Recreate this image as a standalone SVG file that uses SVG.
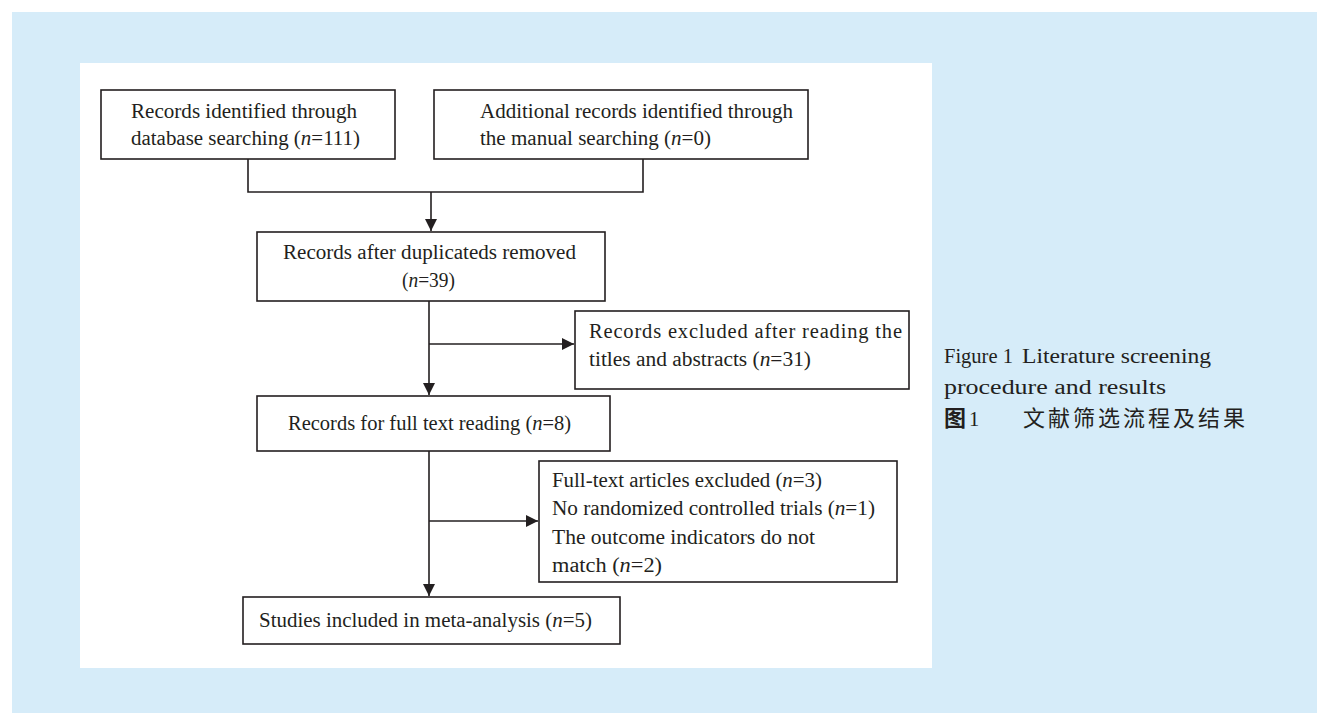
<svg xmlns="http://www.w3.org/2000/svg" width="1317" height="713" viewBox="0 0 1317 713">
<defs>
<style>
.bx{fill:#fff;stroke:#231f20;stroke-width:1.6}
.t{font-family:"Liberation Serif","DejaVu Serif",serif;font-size:20.5px;fill:#231f20}
.ln{fill:none;stroke:#231f20;stroke-width:1.6}
.cap{font-family:"Liberation Serif","DejaVu Serif",serif;font-size:20.5px;fill:#231f20}
.cjk{font-family:"Noto Sans CJK SC",sans-serif;font-size:22px;fill:#231f20}
</style>
<marker id="ah" markerWidth="12" markerHeight="12" refX="12" refY="6" orient="auto" markerUnits="userSpaceOnUse">
<path d="M0,0 L12,6 L0,12 Z" fill="#231f20"/>
</marker>
</defs>
<rect x="0" y="0" width="1317" height="713" fill="#fff"/>
<rect x="12" y="12" width="1305" height="701" fill="#d6ecf9"/>
<rect x="80" y="63" width="852" height="605" fill="#fff"/>

<g id="connectors">
<path class="ln" d="M248,159 V192 H643 V159"/>
<path class="ln" d="M431,192 V231" marker-end="url(#ah)"/>
<path class="ln" d="M429,301 V395" marker-end="url(#ah)"/>
<path class="ln" d="M429,344 H574" marker-end="url(#ah)"/>
<path class="ln" d="M429,451 V596" marker-end="url(#ah)"/>
<path class="ln" d="M429,521 H538" marker-end="url(#ah)"/>
</g>

<g id="n1">
<rect class="bx" x="101" y="90" width="294" height="69"/>
<text class="t" x="131" y="118" textLength="226" lengthAdjust="spacingAndGlyphs">Records identified through</text>
<text class="t" x="131" y="145" textLength="229" lengthAdjust="spacingAndGlyphs">database searching (<tspan font-style="italic">n</tspan>=111)</text>
</g>
<g id="n2">
<rect class="bx" x="434" y="90" width="374" height="69"/>
<text class="t" x="480" y="118" textLength="313" lengthAdjust="spacingAndGlyphs">Additional records identified through</text>
<text class="t" x="480" y="145" textLength="231" lengthAdjust="spacingAndGlyphs">the manual searching (<tspan font-style="italic">n</tspan>=0)</text>
</g>
<g id="n3">
<rect class="bx" x="257" y="232" width="348" height="69"/>
<text class="t" x="283" y="259" textLength="293" lengthAdjust="spacingAndGlyphs">Records after duplicateds removed</text>
<text class="t" x="402" y="287" textLength="53" lengthAdjust="spacingAndGlyphs">(<tspan font-style="italic">n</tspan>=39)</text>
</g>
<g id="n4">
<rect class="bx" x="575" y="311" width="334" height="78"/>
<text class="t" x="589" y="338" textLength="313">Records excluded after reading the</text>
<text class="t" x="589" y="366" textLength="222" lengthAdjust="spacingAndGlyphs">titles and abstracts (<tspan font-style="italic">n</tspan>=31)</text>
</g>
<g id="n5">
<rect class="bx" x="257" y="396" width="353" height="55"/>
<text class="t" x="288" y="430" font-size="19.5">Records for full text reading (<tspan font-style="italic">n</tspan>=8)</text>
</g>
<g id="n6">
<rect class="bx" x="539" y="461" width="358" height="121"/>
<text class="t" x="552" y="487" textLength="270" lengthAdjust="spacingAndGlyphs">Full-text articles excluded (<tspan font-style="italic">n</tspan>=3)</text>
<text class="t" x="552" y="515" textLength="323" lengthAdjust="spacingAndGlyphs">No randomized controlled trials (<tspan font-style="italic">n</tspan>=1)</text>
<text class="t" x="552" y="544" textLength="263" lengthAdjust="spacingAndGlyphs">The outcome indicators do not</text>
<text class="t" x="552" y="572" textLength="110" lengthAdjust="spacingAndGlyphs">match (<tspan font-style="italic">n</tspan>=2)</text>
</g>
<g id="n7">
<rect class="bx" x="243" y="597" width="377" height="47"/>
<text class="t" x="259" y="627" textLength="333" lengthAdjust="spacingAndGlyphs">Studies included in meta-analysis (<tspan font-style="italic">n</tspan>=5)</text>
</g>

<g id="caption">
<text class="cap" x="944" y="363">Figure 1</text>
<text class="cap" x="1022" y="363" textLength="189" lengthAdjust="spacingAndGlyphs">Literature screening</text>
<text class="cap" x="944" y="394" textLength="222" lengthAdjust="spacingAndGlyphs">procedure and results</text>
<text class="cjk" x="944" y="426" font-weight="bold">图</text>
<text class="cap" x="969" y="426">1</text>
<text class="cjk" x="1023" y="426" textLength="222">文献筛选流程及结果</text>
</g>
</svg>
